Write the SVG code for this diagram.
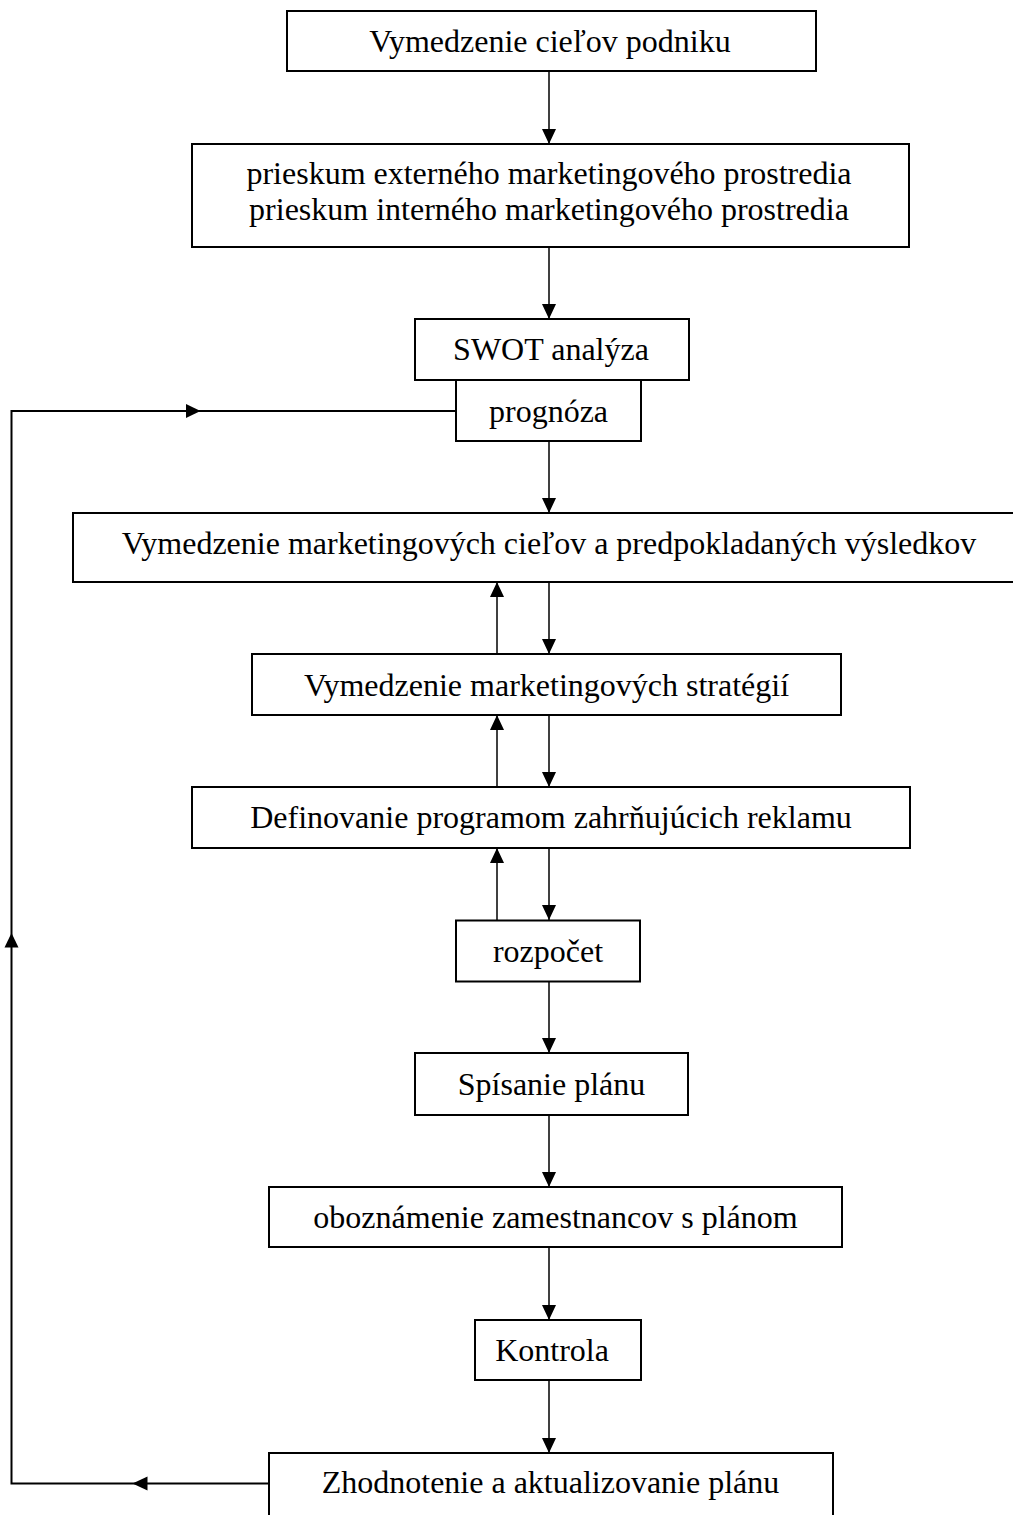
<svg xmlns="http://www.w3.org/2000/svg" width="1013" height="1515" viewBox="0 0 1013 1515">
<style>
.box{fill:#fff;stroke:#000;stroke-width:2}
.lbl{font-family:"Liberation Serif","Times New Roman",serif;font-size:32px;fill:#000;text-anchor:middle}
.con{fill:none;stroke:#000;stroke-width:1.5}
.loop{fill:none;stroke:#000;stroke-width:2}
.ah{fill:#000;stroke:none}
</style>
<defs>
<marker id="arr" markerUnits="userSpaceOnUse" markerWidth="16" markerHeight="14" refX="15" refY="7" orient="auto">
<path d="M0,0 L15,7 L0,14 Z" fill="#000"/>
</marker>
</defs>
<rect width="1013" height="1515" fill="#fff"/>
<g id="connectors">
<line class="con" x1="549" y1="71" x2="549" y2="144" marker-end="url(#arr)"/>
<line class="con" x1="549" y1="247" x2="549" y2="319" marker-end="url(#arr)"/>
<line class="con" x1="549" y1="441" x2="549" y2="513" marker-end="url(#arr)"/>
<line class="con" x1="549" y1="582" x2="549" y2="654" marker-end="url(#arr)"/>
<line class="con" x1="497" y1="654" x2="497" y2="582" marker-end="url(#arr)"/>
<line class="con" x1="549" y1="715" x2="549" y2="787" marker-end="url(#arr)"/>
<line class="con" x1="497" y1="787" x2="497" y2="715" marker-end="url(#arr)"/>
<line class="con" x1="549" y1="848" x2="549" y2="920" marker-end="url(#arr)"/>
<line class="con" x1="497" y1="920" x2="497" y2="848" marker-end="url(#arr)"/>
<line class="con" x1="549" y1="981" x2="549" y2="1053" marker-end="url(#arr)"/>
<line class="con" x1="549" y1="1115" x2="549" y2="1187" marker-end="url(#arr)"/>
<line class="con" x1="549" y1="1247" x2="549" y2="1320" marker-end="url(#arr)"/>
<line class="con" x1="549" y1="1380" x2="549" y2="1453" marker-end="url(#arr)"/>
<polyline class="loop" points="269,1483.5 11.5,1483.5 11.5,411 456,411"/>
<polygon class="ah" points="132.5,1483.5 147.5,1476.5 147.5,1490.5"/>
<polygon class="ah" points="11.5,933 4.5,947.5 18.5,947.5"/>
<polygon class="ah" points="200.5,411 186,404 186,418"/>
</g>
<g id="n1"><rect class="box" x="287" y="11" width="529" height="60"/><text class="lbl" x="550" y="52">Vymedzenie cieľov podniku</text></g>
<g id="n2"><rect class="box" x="192" y="144" width="717" height="103"/><text class="lbl" x="549" y="184">prieskum externého marketingového prostredia</text><text class="lbl" x="549" y="220">prieskum interného marketingového prostredia</text></g>
<g id="n3"><rect class="box" x="415" y="319" width="274" height="61"/><text class="lbl" x="551" y="359.5">SWOT analýza</text></g>
<g id="n4"><rect class="box" x="456" y="380" width="185" height="61"/><text class="lbl" x="548.5" y="421.5">prognóza</text></g>
<g id="n5"><rect class="box" x="73" y="513" width="952" height="69"/><text class="lbl" x="549" y="553.5">Vymedzenie marketingových cieľov a predpokladaných výsledkov</text></g>
<g id="n6"><rect class="box" x="252" y="654" width="589" height="61"/><text class="lbl" x="546.5" y="695.5">Vymedzenie marketingových stratégií</text></g>
<g id="n7"><rect class="box" x="192" y="787" width="718" height="61"/><text class="lbl" x="551" y="828">Definovanie programom zahrňujúcich reklamu</text></g>
<g id="n8"><rect class="box" x="456" y="920.5" width="184" height="61"/><text class="lbl" x="548" y="961.5">rozpočet</text></g>
<g id="n9"><rect class="box" x="415" y="1053" width="273" height="62"/><text class="lbl" x="551.5" y="1095">Spísanie plánu</text></g>
<g id="n10"><rect class="box" x="269" y="1187" width="573" height="60"/><text class="lbl" x="555.5" y="1228">oboznámenie zamestnancov s plánom</text></g>
<g id="n11"><rect class="box" x="475" y="1320" width="166" height="60"/><text class="lbl" x="552" y="1360.5">Kontrola</text></g>
<g id="n12"><rect class="box" x="269" y="1453" width="564" height="80"/><text class="lbl" x="550.5" y="1493">Zhodnotenie a aktualizovanie plánu</text></g>
</svg>
